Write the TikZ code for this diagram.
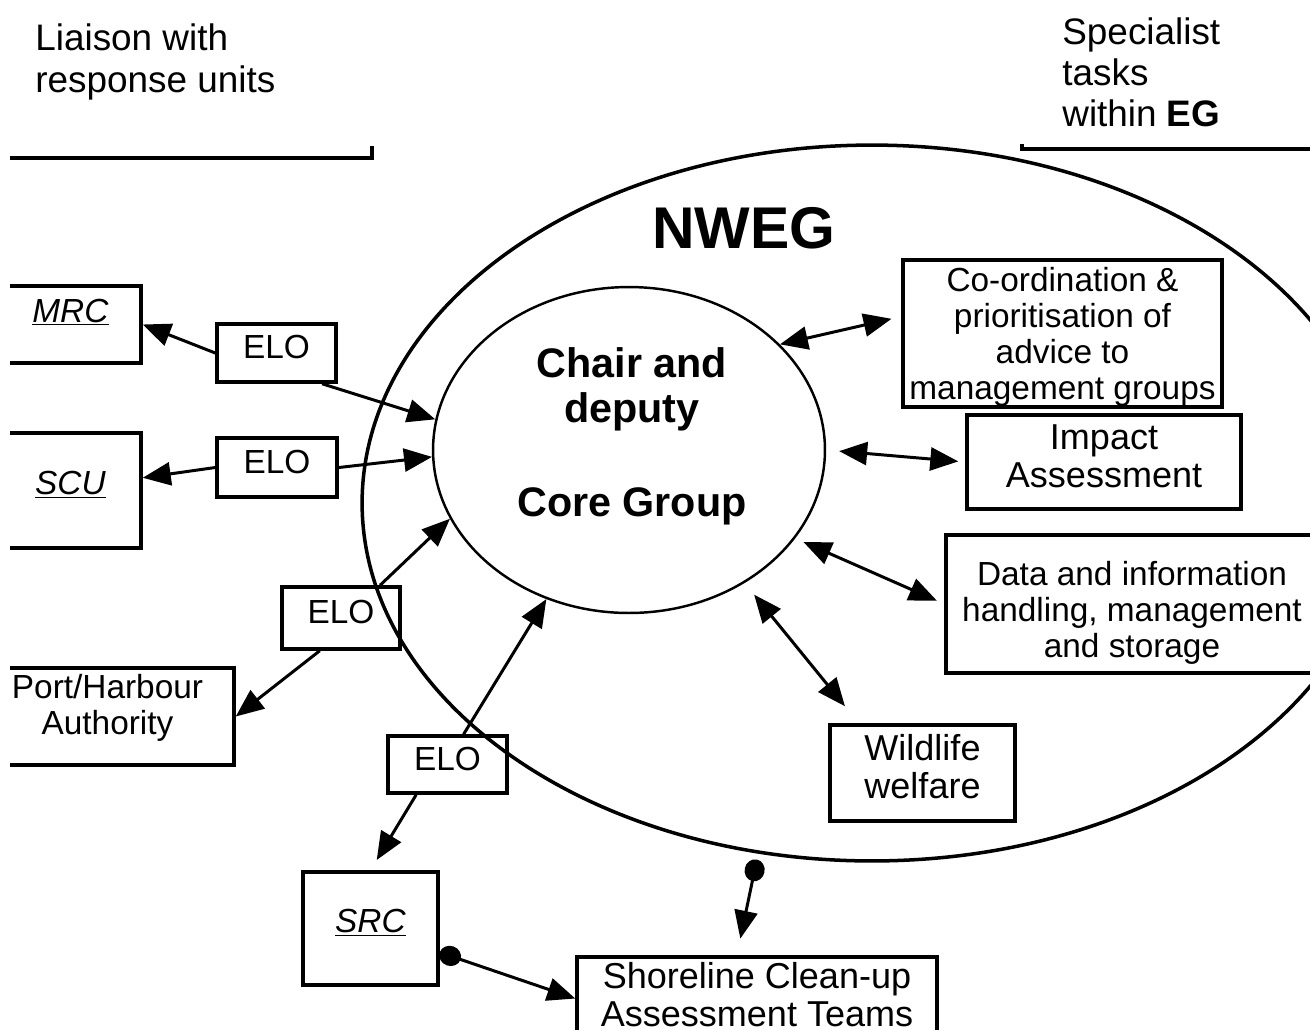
\documentclass[tikz,border=0pt]{standalone}
\usepackage{fontspec}
\setmainfont{Liberation Sans}
\usetikzlibrary{arrows.meta,shapes.geometric}
\newcommand{\boxfont}{\fontsize{19pt}{20.5pt}\selectfont}
\newcommand{\bigboxfont}{\fontsize{20.5pt}{21.6pt}\selectfont}
\newcommand{\hdrfont}{\fontsize{21pt}{23.4pt}\selectfont}
\newcommand{\corefont}{\fontsize{23.5pt}{25.6pt}\selectfont\bfseries}
\tikzset{
  unitbox/.style={draw, line width=2pt, inner sep=0pt, font=\boxfont,
                  text height=5mm, text depth=#1},
  unitbox/.default=3.4mm,
  taskbox/.style={draw, line width=2pt, inner sep=0pt, align=center,
                  font=\boxfont},
  hdr/.style    ={anchor=west, align=left, font=\hdrfont, inner sep=0pt},
  ring/.style   ={draw, ellipse, inner sep=0pt},
  lnk/.style    ={-{Triangle[length=5.6mm,width=4.6mm]}, line width=1.7pt},
  dbl/.style    ={{Triangle[length=5.6mm,width=4.6mm]}-{Triangle[length=5.6mm,width=4.6mm]},
                  line width=1.7pt},
  dotlnk/.style ={{Circle[length=4.4mm,width=4mm]}-{Triangle[length=5.6mm,width=4.6mm]},
                  line width=1.7pt},
}

\begin{document}
\begin{tikzpicture}[x=0.02cm, y=-0.02cm]
  \useasboundingbox (0,0) rectangle (1310,1029);
  \clip (10,0) rectangle (1310,1029);
  % headings
  \node[hdr] (liaison) at (35,62) {Liaison with\\response units};
  \node[hdr] (spec) at (1062,72) {Specialist\\tasks\\within \textbf{EG}};
  \draw[line width=2pt] (10,158) -- (372,158) -- (372,146);
  \draw[line width=2pt] (1022,144) -- (1022,149) -- (1310,149);
  % the group and its core
  \node[ring, line width=2pt, minimum width=204mm, minimum height=143.2mm] (nweg) at (872,503) {};
  \node[ring, line width=1.4pt, minimum width=78.4mm, minimum height=65.2mm] (core) at (629,450) {};
  \node[font=\fontsize{33.5pt}{36pt}\selectfont\bfseries] (nwegtxt) at (744,228) {NWEG};
  \node[font=\corefont, align=center] (chair) at (632,389) {Chair and\\deputy};
  \node[font=\corefont] (coregrp) at (632,506) {Core Group};
  % response units
  \node[unitbox=6mm, minimum width=28.2mm, minimum height=15.4mm] (mrc) at (70.5,324.5) {\underline{\textit{MRC}}};
  \node[unitbox, minimum width=28.2mm, minimum height=23mm] (scu) at (70.5,490.5) {\underline{\textit{SCU}}};
  \node[taskbox, text depth=5mm, minimum width=50.6mm, minimum height=19.4mm] (port) at (107.5,716.5) {Port/Harbour\\Authority};
  \node[unitbox, minimum width=27mm, minimum height=22.6mm] (src) at (370.5,928.5) {\underline{\textit{SRC}}};
  \node[taskbox, font=\bigboxfont, text depth=1.6mm, minimum width=72mm, minimum height=16.6mm] (scat) at (757,998.5) {Shoreline Clean-up\\Assessment Teams};
  % liaison officers
  \node[unitbox=2.8mm, minimum width=23.8mm, minimum height=11.6mm] (elo1) at (276.5,353) {ELO};
  \node[unitbox=2.8mm, minimum width=24mm, minimum height=11.8mm] (elo2) at (277,467.5) {ELO};
  \node[unitbox=2.8mm, minimum width=23.6mm, minimum height=12.4mm] (elo3) at (341,618) {ELO};
  \node[unitbox=2.8mm, minimum width=23.8mm, minimum height=11.4mm] (elo4) at (447.5,764.5) {ELO};
  % specialist tasks
  \node[taskbox, text depth=0.2mm, minimum width=63.8mm, minimum height=29.4mm] (coord) at (1062.5,333.5)
    {Co-ordination \&\\prioritisation of\\advice to\\management groups};
  \node[taskbox, font=\bigboxfont, text depth=2.4mm, minimum width=54.8mm, minimum height=18.8mm] (impact) at (1104,462)
    {Impact\\Assessment};
  \node[taskbox, text height=21.4mm, text depth=0mm, minimum width=74.4mm, minimum height=27.6mm] (data) at (1132,604)
    {Data and information\\handling, management\\and storage};
  \node[taskbox, font=\bigboxfont, text depth=2.8mm, minimum width=37mm, minimum height=19.2mm] (wild) at (922.5,773)
    {Wildlife\\welfare};
  % links to response units
  \draw[lnk] (elo1.west) -- (mrc.east);
  \draw[lnk] (elo1.-34) -- (core.171);
  \draw[lnk] (elo2.west) -- (scu.10);
  \draw[lnk] (elo2.east) -- (core.182);
  \draw[lnk] (elo3.40) -- (core.201);
  \draw[lnk] (elo3.237) -- (port.east);
  \draw[lnk] (elo4.62) -- (core.241);
  \draw[lnk, shorten >=2.4mm] (elo4.224) -- (src.north);
  % links to tasks
  \draw[dbl, shorten >=2mm] (core.35) -- (coord.174);
  \draw[dbl, shorten <=2.6mm, shorten >=1.4mm] (core.0) -- (impact.west);
  \draw[dbl, shorten <=1.8mm, shorten >=1.6mm] (core.-28) -- (data.west);
  \draw[dbl, shorten <=3mm, shorten >=4.4mm] (core.-49) -- (wild.142);
  % shoreline teams
  \draw[dotlnk] (src.-19) -- (scat.west);
  \draw[dotlnk, shorten <=1.2mm, shorten >=3.4mm] (nweg.-108) -- (scat.115);
\end{tikzpicture}
\end{document}
